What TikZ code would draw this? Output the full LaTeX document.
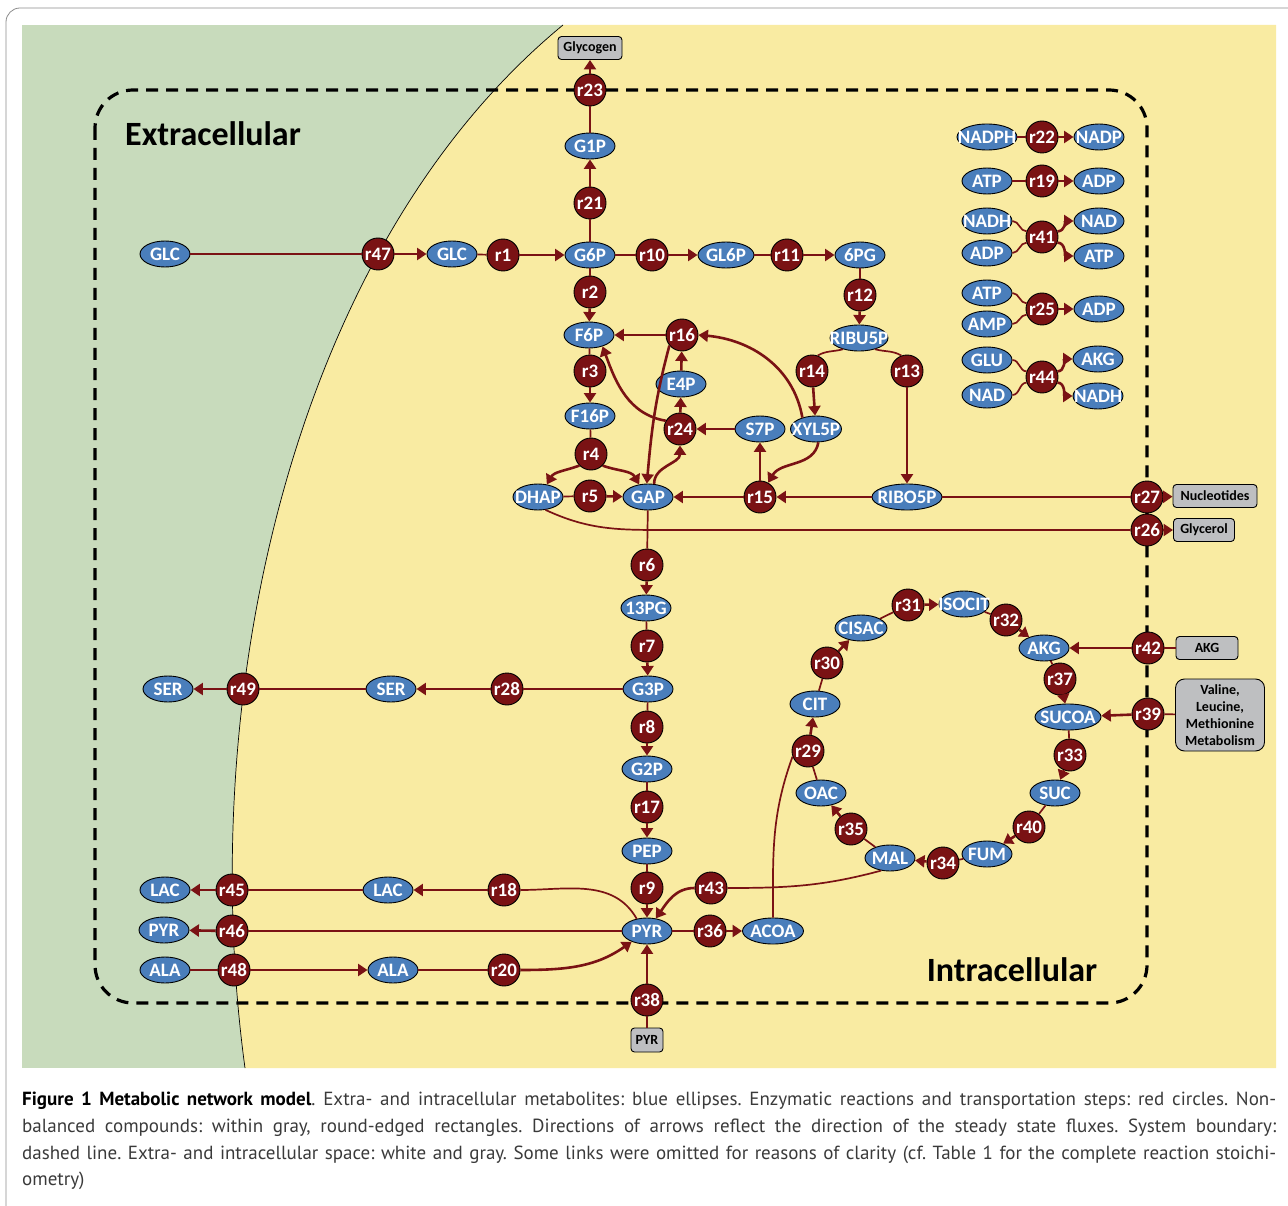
\documentclass[tikz,border=0pt]{standalone}
\usepackage{fontspec}
\setmainfont{PT Sans}
\newfontfamily\dfont{Carlito}
\usetikzlibrary{shapes.geometric,arrows.meta}
\definecolor{metblue}{HTML}{4A7EBB}
\definecolor{rxnred}{HTML}{7A1214}
\definecolor{extgreen}{HTML}{C8DBBC}
\definecolor{intyellow}{HTML}{F9EBA2}
\definecolor{boxgray}{HTML}{BEBFC1}
\definecolor{captxt}{HTML}{3A3A3A}
\frenchspacing
\tikzset{
 met/.style={ellipse, draw=black, line width=0.9, fill=metblue, text=white,
   font=\dfont\bfseries\fontsize{19}{19}\selectfont, minimum width=#1, minimum height=26, inner sep=0pt,
   execute at begin node={\hbox to 0pt\bgroup\hss}, execute at end node={\hss\egroup}},
 met/.default=50,
 rxn/.style={circle, draw=black, line width=0.9, fill=rxnred, text=white,
   font=\dfont\bfseries\fontsize{19}{19}\selectfont, minimum size=32, inner sep=0pt,
   execute at begin node={\hbox to 0pt\bgroup\hss}, execute at end node={\hss\egroup}},
 ext/.style={rounded corners=3.5, draw=black, line width=0.9, fill=boxgray,
   font=\dfont\bfseries\fontsize{14}{17}\selectfont, minimum height=23, inner sep=0pt, align=center},
 sub/.style={draw=rxnred, line width=1.7},
 prod/.style={draw=rxnred, line width=2.6, -{Triangle[length=9.5pt,width=12pt]}},
 biglabel/.style={font=\dfont\bfseries\fontsize{34}{34}\selectfont, inner sep=0pt},
 capline/.style={anchor=base west, inner sep=0pt, font=\fontsize{19}{21}\selectfont, text=captxt},
}
\begin{document}
\begin{tikzpicture}[x=1pt,y=1pt]
\useasboundingbox (0,-1206) rectangle (1288,0);
% frame and background
\draw[black!45, line width=0.8, rounded corners=14] (6,-1240) -- (6,-8) -- (1310,-8);
\fill[extgreen] (22,-25) rectangle (1276,-1068);
\fill[intyellow] (563,-25) -- (1276,-25) -- (1276,-1068) -- (245,-1068) .. controls (195,-700) and (290,-250) .. (563,-25) -- cycle;
\draw[line width=0.7] (563,-25) .. controls (290,-250) and (195,-700) .. (245,-1068);
\draw[line width=3.2, dash pattern=on 12pt off 8pt, rounded corners=38] (95,-90) rectangle (1147,-1003);
\node[biglabel] (extlabel) at (213,-134) {Extracellular};
\node[biglabel] (intlabel) at (1012,-970) {Intracellular};

% metabolites
\node[met] (GLCx) at (165,-254) {GLC};
\node[met] (GLC) at (452,-254) {GLC};
\node[met] (G6P) at (590,-255) {G6P};
\node[met] (G1P) at (590,-146) {G1P};
\node[met=56] (GL6P) at (726,-255) {GL6P};
\node[met] (PG6) at (860,-255) {6PG};
\node[met] (F6P) at (589,-335) {F6P};
\node[met] (F16P) at (590,-416) {F16P};
\node[met] (E4P) at (681,-384) {E4P};
\node[met] (S7P) at (760,-429) {S7P};
\node[met=51] (XYL5P) at (816,-429) {XYL5P};
\node[met=58] (RIBU5P) at (859,-338) {RIBU5P};
\node[met=70] (RIBO5P) at (907,-497) {RIBO5P};
\node[met] (DHAP) at (538,-497) {DHAP};
\node[met] (GAP) at (648,-497) {GAP};
\node[met] (PG13) at (646,-608) {13PG};
\node[met] (G3P) at (648,-689) {G3P};
\node[met] (G2P) at (647,-769) {G2P};
\node[met] (PEP) at (647,-851) {PEP};
\node[met] (PYR) at (647,-931) {PYR};
\node[met=61] (ACOA) at (773,-931) {ACOA};
\node[met] (SER) at (391,-689) {SER};
\node[met] (SERx) at (168,-689) {SER};
\node[met] (LAC) at (388,-890) {LAC};
\node[met] (LACx) at (165,-890) {LAC};
\node[met] (PYRx) at (164,-930) {PYR};
\node[met] (ALA) at (393,-970) {ALA};
\node[met] (ALAx) at (165,-970) {ALA};
\node[met] (CIT) at (815,-704) {CIT};
\node[met=52] (CISAC) at (861,-628) {CISAC};
\node[met] (ISOCIT) at (964,-604) {ISOCIT};
\node[met] (AKG) at (1044,-648) {AKG};
\node[met=66] (SUCOA) at (1068,-717) {SUCOA};
\node[met] (SUC) at (1055,-793) {SUC};
\node[met] (FUM) at (987,-854) {FUM};
\node[met] (MAL) at (890,-858) {MAL};
\node[met] (OAC) at (821,-793) {OAC};
% cofactors
\node[met=60] (NADPH) at (987,-137) {NADPH};
\node[met] (NADP) at (1099,-137) {NADP};
\node[met] (ATPa) at (987,-181) {ATP};
\node[met] (ADPa) at (1099,-181) {ADP};
\node[met] (NADHb) at (987,-221) {NADH};
\node[met] (ADPb) at (987,-253) {ADP};
\node[met] (NADb) at (1099,-221) {NAD};
\node[met] (ATPb) at (1099,-256) {ATP};
\node[met] (ATPc) at (987,-293) {ATP};
\node[met] (AMPc) at (987,-324) {AMP};
\node[met] (ADPc) at (1099,-309) {ADP};
\node[met] (GLUd) at (987,-360) {GLU};
\node[met] (NADd) at (987,-395) {NAD};
\node[met] (AKGd) at (1098,-359) {AKG};
\node[met] (NADHd) at (1098,-396) {NADH};

% reactions
\node[rxn] (r23) at (590,-90) {r23};
\node[rxn] (r21) at (590,-203) {r21};
\node[rxn] (r47) at (378,-254) {r47};
\node[rxn] (r1) at (503,-255) {r1};
\node[rxn] (r10) at (652,-255) {r10};
\node[rxn] (r11) at (787,-255) {r11};
\node[rxn] (r12) at (860,-295) {r12};
\node[rxn] (r2) at (590,-292) {r2};
\node[rxn] (r16) at (682,-335) {r16};
\node[rxn] (r3) at (590,-371) {r3};
\node[rxn] (r14) at (812,-371) {r14};
\node[rxn] (r13) at (907,-371) {r13};
\node[rxn] (r24) at (680,-429) {r24};
\node[rxn] (r4) at (591,-454) {r4};
\node[rxn] (r5) at (590,-496) {r5};
\node[rxn] (r15) at (760,-497) {r15};
\node[rxn] (r27) at (1147,-497) {r27};
\node[rxn] (r26) at (1147,-530) {r26};
\node[rxn] (r6) at (647,-565) {r6};
\node[rxn] (r7) at (647,-646) {r7};
\node[rxn] (r28) at (507,-689) {r28};
\node[rxn] (r49) at (243,-689) {r49};
\node[rxn] (r8) at (647,-727) {r8};
\node[rxn] (r17) at (647,-807) {r17};
\node[rxn] (r9) at (647,-888) {r9};
\node[rxn] (r43) at (711,-888) {r43};
\node[rxn] (r36) at (710,-931) {r36};
\node[rxn] (r18) at (504,-890) {r18};
\node[rxn] (r45) at (232,-890) {r45};
\node[rxn] (r46) at (232,-931) {r46};
\node[rxn] (r48) at (234,-970) {r48};
\node[rxn] (r20) at (504,-970) {r20};
\node[rxn] (r38) at (647,-1000) {r38};
\node[rxn] (r31) at (908,-605) {r31};
\node[rxn] (r32) at (1006,-620) {r32};
\node[rxn] (r30) at (827,-663) {r30};
\node[rxn] (r42) at (1148,-648) {r42};
\node[rxn] (r37) at (1060,-679) {r37};
\node[rxn] (r39) at (1148,-714) {r39};
\node[rxn] (r29) at (808,-751) {r29};
\node[rxn] (r33) at (1070,-755) {r33};
\node[rxn] (r35) at (851,-829) {r35};
\node[rxn] (r40) at (1029,-827) {r40};
\node[rxn] (r34) at (943,-863) {r34};
\node[rxn] (r22) at (1042,-137) {r22};
\node[rxn] (r19) at (1042,-181) {r19};
\node[rxn] (r41) at (1042,-237) {r41};
\node[rxn] (r25) at (1042,-309) {r25};
\node[rxn] (r44) at (1042,-377) {r44};

% non-balanced compounds
\node[ext, minimum width=64] (glyc) at (590,-48) {Glycogen};
\node[ext, minimum width=84] (nucl) at (1215,-496) {Nucleotides};
\node[ext, minimum width=61] (glyb) at (1204,-530) {Glycerol};
\node[ext, minimum width=62] (akgb) at (1207,-648) {AKG};
\node[ext, minimum width=89, minimum height=72, rounded corners=9] (valb) at (1220,-715) {Valine,\\Leucine,\\Methionine\\Metabolism};
\node[ext, minimum width=32, minimum height=24] (pyrb) at (647,-1040) {PYR};

% connectors: glycolysis / upper part
\draw[sub] (GLCx) -- (r47); \draw[prod] (r47) -- (GLC);
\draw[sub] (GLC) -- (r1); \draw[prod] (r1) -- (G6P);
\draw[sub] (G6P) -- (r21); \draw[prod] (r21) -- (G1P);
\draw[sub] (G1P) -- (r23); \draw[prod] (r23) -- (glyc);
\draw[sub] (G6P) -- (r10); \draw[prod] (r10) -- (GL6P);
\draw[sub] (GL6P) -- (r11); \draw[prod] (r11) -- (PG6);
\draw[sub] (PG6) -- (r12); \draw[prod] (r12) -- (RIBU5P);
\draw[sub] (G6P) -- (r2); \draw[prod] (r2) -- (F6P);
\draw[sub] (F6P) -- (r3); \draw[prod] (r3) -- (F16P);
\draw[sub] (F16P) -- (r4);
\draw[prod] (r4.225) to[out=200,in=60] (DHAP.55);
\draw[prod] (r4.315) to[out=-20,in=120] (GAP.125);
\draw[sub] (DHAP) -- (r5); \draw[prod] (r5) -- (GAP);
% pentose phosphate
\draw[prod] (r16) -- (F6P);
\draw[prod] (E4P) -- (r16);
\draw[prod] (XYL5P.140) to[out=100,in=-5] (r16.east);
\draw[prod] (r16.220) to[out=-105,in=85] (GAP.95);
\draw[prod] (S7P) -- (r24);
\draw[prod] (GAP.65) to[out=90,in=-90] (r24.south);
\draw[prod] (r24) -- (E4P);
\draw[prod] (r24.150) to[out=170,in=-70] (F6P.-40);
\draw[prod] (RIBO5P) -- (r15);
\draw[prod] (XYL5P.-80) to[out=-100,in=60] (r15.60);
\draw[prod] (r15) -- (S7P);
\draw[prod] (r15) -- (GAP);
\draw[sub] (RIBU5P.215) to[out=195,in=30] (r14.70); \draw[prod] (r14) -- (XYL5P);
\draw[sub] (RIBU5P.-35) to[out=-15,in=150] (r13.110); \draw[prod] (r13) -- (RIBO5P);
\draw[sub] (RIBO5P) -- (r27); \draw[prod] (r27) -- (nucl);
\coordinate (glyturn) at (665,-530);
\draw[sub] (DHAP.-60) to[out=-25,in=180] (glyturn) -- (r26.west);
\draw[prod] (r26) -- (glyb);
% lower glycolysis
\draw[sub] (GAP) -- (r6); \draw[prod] (r6) -- (PG13);
\draw[sub] (PG13) -- (r7); \draw[prod] (r7) -- (G3P);
\draw[sub] (G3P) -- (r28); \draw[prod] (r28) -- (SER);
\draw[sub] (SER) -- (r49); \draw[prod] (r49) -- (SERx);
\draw[sub] (G3P) -- (r8); \draw[prod] (r8) -- (G2P);
\draw[sub] (G2P) -- (r17); \draw[prod] (r17) -- (PEP);
\draw[sub] (PEP) -- (r9); \draw[prod] (r9) -- (PYR);
\draw[sub] (PYR.130) to[out=120,in=0] (r18.east); \draw[prod] (r18) -- (LAC);
\draw[sub] (LAC) -- (r45); \draw[prod] (r45) -- (LACx);
\draw[sub] (PYR) -- (r46); \draw[prod] (r46) -- (PYRx);
\draw[sub] (ALAx) -- (r48); \draw[prod] (r48) -- (ALA);
\draw[sub] (ALA) -- (r20); \draw[prod] (r20.east) to[out=0,in=215] (PYR.215);
\draw[sub] (pyrb) -- (r38); \draw[prod] (r38) -- (PYR);
\draw[sub] (PYR) -- (r36); \draw[prod] (r36) -- (ACOA);
\draw[sub] (MAL.235) to[out=195,in=0] (r43.east);
\draw[prod] (r43.west) to[out=180,in=55] (PYR.55);
\draw[sub] (ACOA.north) to[out=90,in=250] (r29.200);
% TCA cycle
\draw[sub] (OAC) -- (r29); \draw[prod] (r29) -- (CIT);
\draw[sub] (CIT) -- (r30); \draw[prod] (r30) -- (CISAC);
\draw[sub] (CISAC) -- (r31); \draw[prod] (r31) -- (ISOCIT);
\draw[sub] (ISOCIT) -- (r32); \draw[prod] (r32) -- (AKG);
\draw[sub] (AKG) -- (r37); \draw[prod] (r37) -- (SUCOA);
\draw[sub] (SUCOA) -- (r33); \draw[prod] (r33) -- (SUC);
\draw[sub] (SUC) -- (r40); \draw[prod] (r40) -- (FUM);
\draw[sub] (FUM) -- (r34); \draw[prod] (r34) -- (MAL);
\draw[sub] (MAL) -- (r35); \draw[prod] (r35) -- (OAC);
\draw[sub] (akgb) -- (r42); \draw[prod] (r42) -- (AKG);
\draw[sub] (valb) -- (r39); \draw[prod] (r39) -- (SUCOA);
% cofactors
\draw[sub] (NADPH) -- (r22); \draw[prod] (r22) -- (NADP);
\draw[sub] (ATPa) -- (r19); \draw[prod] (r19) -- (ADPa);
\draw[sub] (NADHb.east) to[out=0,in=180] (r41.160);
\draw[sub] (ADPb.east) to[out=0,in=180] (r41.200);
\draw[prod] (r41.20) to[out=0,in=180] (NADb.west);
\draw[prod] (r41.-20) to[out=0,in=180] (ATPb.west);
\draw[sub] (ATPc.east) to[out=0,in=180] (r25.160);
\draw[sub] (AMPc.east) to[out=0,in=180] (r25.200);
\draw[prod] (r25) -- (ADPc);
\draw[sub] (GLUd.east) to[out=0,in=180] (r44.160);
\draw[sub] (NADd.east) to[out=0,in=180] (r44.200);
\draw[prod] (r44.20) to[out=0,in=180] (AKGd.west);
\draw[prod] (r44.-20) to[out=0,in=180] (NADHd.west);

% caption
\node[capline] (cap1) at (22,-1105) {\makebox[1254pt][s]{\textcolor{black}{\bfseries Figure 1 Metabolic network model}. Extra- and intracellular metabolites: blue ellipses. Enzymatic reactions and transportation steps: red circles. Non-}};
\node[capline] (cap2) at (22,-1132) {\makebox[1254pt][s]{balanced compounds: within gray, round-edged rectangles. Directions of arrows reflect the direction of the steady state fluxes. System boundary:}};
\node[capline] (cap3) at (22,-1159) {\makebox[1254pt][s]{dashed line. Extra- and intracellular space: white and gray. Some links were omitted for reasons of clarity (cf. Table 1 for the complete reaction stoichi-}};
\node[capline] (cap4) at (22,-1185) {ometry)};
\end{tikzpicture}
\end{document}
